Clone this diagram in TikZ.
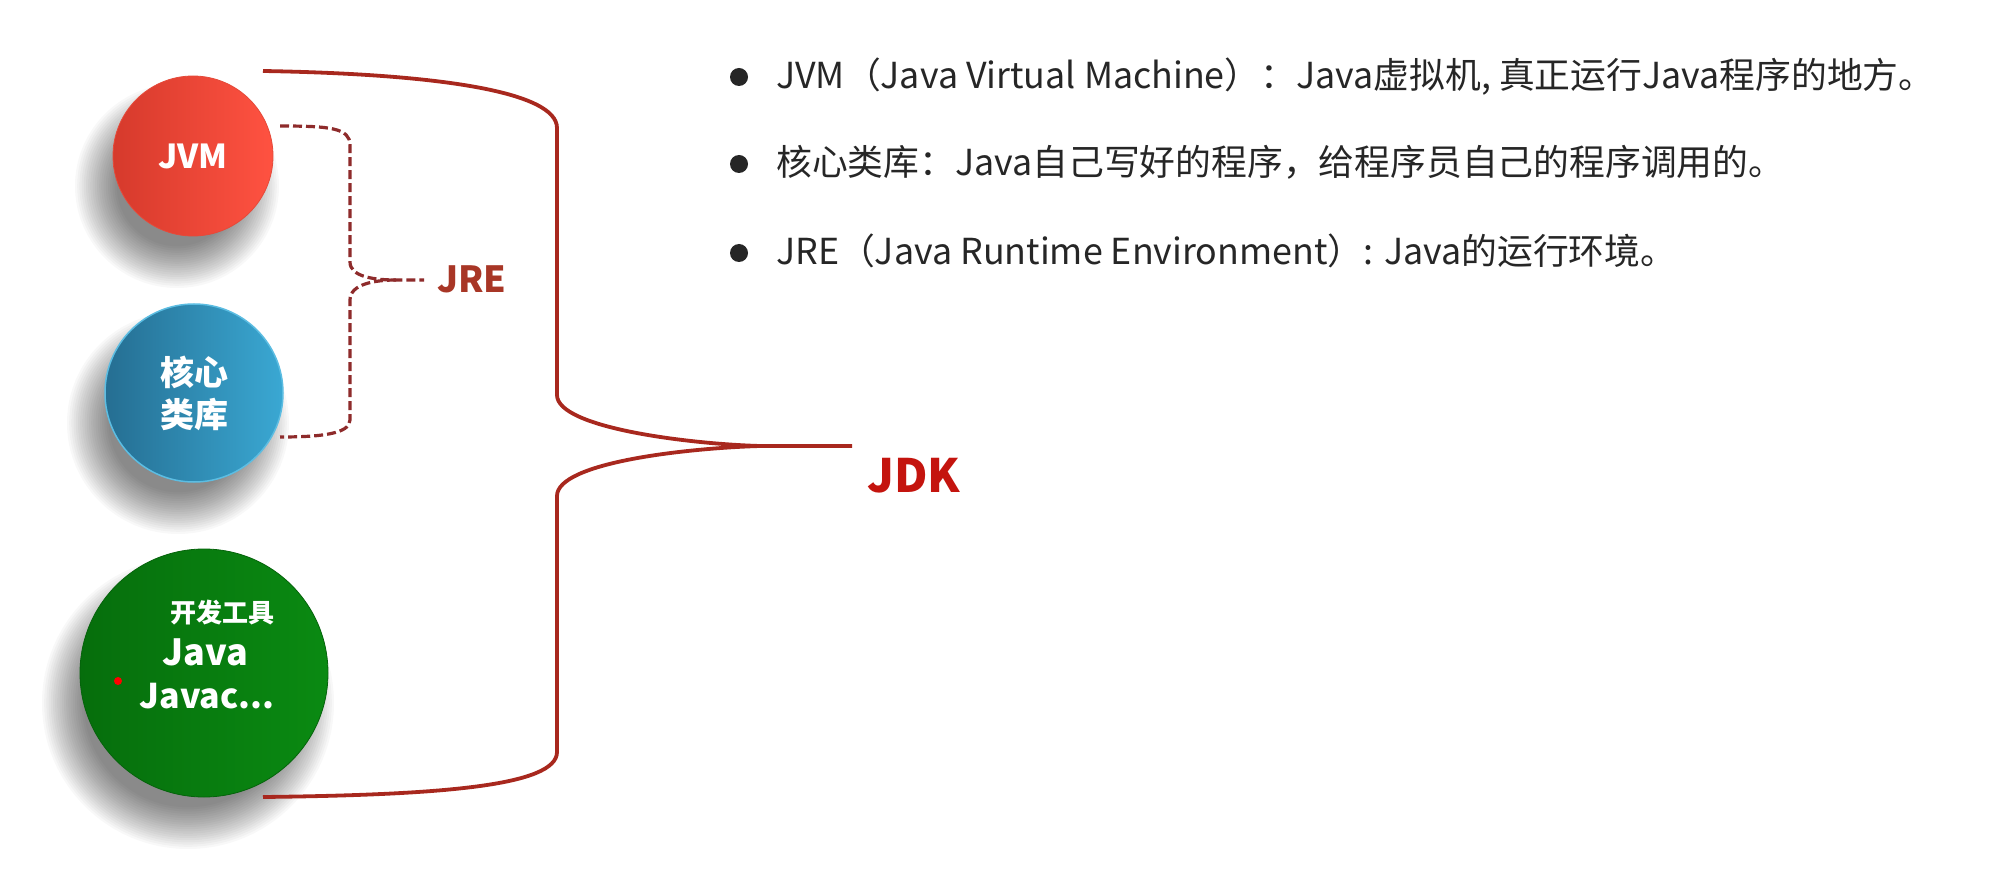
\documentclass[tikz,border=0pt]{standalone}
\usepackage{fontspec}
\setmainfont{Noto Sans CJK SC}
\definecolor{jdkred}{HTML}{A8281E}
\definecolor{jdktext}{HTML}{C4140E}
\definecolor{jrered}{HTML}{8E2B2B}
\definecolor{jretext}{HTML}{A83626}
\definecolor{bodytext}{HTML}{262626}
\definecolor{jvmleft}{HTML}{D63A2C}
\definecolor{jvmright}{HTML}{FF5241}
\definecolor{coreleft}{HTML}{256E92}
\definecolor{coreright}{HTML}{3AA8D3}
\definecolor{coreedge}{HTML}{5CBDE2}
\definecolor{devleft}{HTML}{066E0C}
\definecolor{devright}{HTML}{0A8A12}
\newcommand{\ballshadow}[2]{\foreach \k in {0,...,19}{\fill[black,opacity=0.026] ([shift={(-16,30)}]#1) circle ({#2+22-2.2*\k});}}
\begin{document}
\begin{tikzpicture}[x=1pt,y=-1pt,
		ball/.style={circle, inner sep=0pt, text=white, align=center, font=\bfseries},
		jdkline/.style={draw=jdkred, line width=3.8pt},
		jreline/.style={draw=jrered, line width=3.2pt, dash pattern=on 9pt off 4pt},
		bullet/.style={circle, fill=bodytext, minimum size=18pt, inner sep=0pt},
		item/.style={anchor=base west, inner sep=0pt, text=bodytext, font=\fontsize{35.8}{40}\selectfont}]
		\useasboundingbox[fill=white] (0,0) rectangle (2014,882);
		\coordinate (cjvm) at (193,156);
		\coordinate (ccore) at (194,393);
		\coordinate (cdev) at (204,673);
		\ballshadow{cjvm}{80}
		\ballshadow{ccore}{89}
		\ballshadow{cdev}{124}
		\node[ball, minimum size=160pt, left color=jvmleft, right color=jvmright, draw=jvmright!90!black, line width=0.8pt,
			font=\bfseries\fontsize{33}{36}\selectfont] (jvm) at (cjvm) {JVM};
		\node[ball, minimum size=178pt, left color=coreleft, right color=coreright, draw=coreedge, line width=1.5pt,
			font=\bfseries\fontsize{34}{42}\selectfont] (core) at (ccore) {核心\\类库};
		\node[ball, minimum size=248pt, left color=devleft, right color=devright, draw=devleft!90!black, line width=0.8pt] (dev) at (cdev) {};
		\node[text=white, font=\bfseries\fontsize{26}{30}\selectfont] (devtitle) at (222,613) {开发工具};
		\node[text=white, font=\bfseries\fontsize{36}{40}\selectfont] (devjava) at (205,652) {Java};
		\node[text=white, font=\bfseries\fontsize{34}{40}\selectfont] (devjavac) at (207,696) {Javac...};
		\fill[red] (118,681) circle (4);
		\coordinate (jdktop) at (263,71);
		\coordinate (jdkbot) at (263,797);
		\coordinate (jdktip) at (760,446);
		\coordinate (jdkend) at (852,446);
		\draw[jdkline] (jdktop) .. controls (440,74) and (557,92) .. (557,128) -- (557,395) .. controls (557,428) and (690,444) .. (jdktip) -- (jdkend);
		\draw[jdkline] (jdktip) .. controls (690,448) and (557,462) .. (557,496) -- (557,752) .. controls (557,786) and (440,795) .. (jdkbot);
		\node[text=jdktext, font=\bfseries\fontsize{46}{50}\selectfont] (jdk) at (914,476) {JDK};
		\coordinate (jretop) at (280,126);
		\coordinate (jrebot) at (280,437);
		\coordinate (jretip) at (396,280);
		\coordinate (jreend) at (424,280);
		\draw[jreline] (jretop) .. controls (330,126) and (350,128) .. (350,145) -- (350,262) .. controls (350,277) and (375,280) .. (jretip) -- (jreend);
		\draw[jreline] (jretip) .. controls (375,280) and (350,284) .. (350,300) -- (350,420) .. controls (350,434) and (320,437) .. (jrebot);
		\node[text=jretext, font=\bfseries\fontsize{36}{40}\selectfont] (jre) at (472,279) {JRE};
		\node[bullet] (dot1) at (739,77) {};
		\node[bullet] (dot2) at (739,164) {};
		\node[bullet] (dot3) at (739,253) {};
		\node[item] (b1) at (776,89) {JVM（Java Virtual Machine）：Java虚拟机, 真正运行Java程序的地方。};
		\node[item] (b2) at (776,176) {核心类库：Java自己写好的程序，给程序员自己的程序调用的。};
		\node[item] (b3) at (776,265) {JRE（Java Runtime Environment）: Java的运行环境。};
	\end{tikzpicture}
\end{document}
